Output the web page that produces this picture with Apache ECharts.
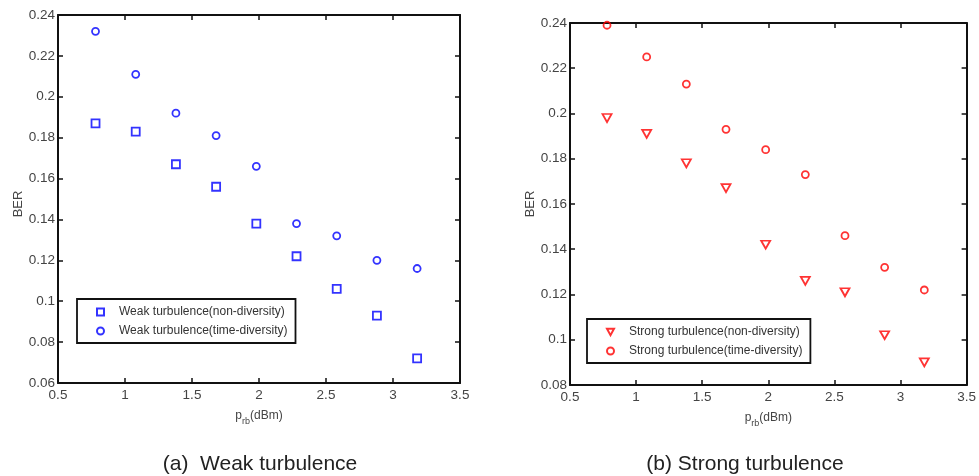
<!DOCTYPE html>
<html>
<head>
<meta charset="utf-8">
<script src="https://cdn.jsdelivr.net/npm/echarts@6/dist/echarts.min.js"></script>
<style>
  html, body { margin: 0; padding: 0; background: #fff; }
  #chart { width: 979px; height: 476px; }
</style>
</head>
<body>
<div id="chart"></div>
<script>
// Received optical power p_rb (dBm)
const powerDbm = [0.78, 1.08, 1.38, 1.68, 1.98, 2.28, 2.58, 2.88, 3.18];

// Bit error rate, weak turbulence
const weakNonDiversity  = [0.187, 0.183, 0.167, 0.156, 0.138, 0.122, 0.106, 0.093, 0.072];
const weakTimeDiversity = [0.232, 0.211, 0.192, 0.181, 0.166, 0.138, 0.132, 0.120, 0.116];

// Bit error rate, strong turbulence
const strongNonDiversity  = [0.198, 0.191, 0.178, 0.167, 0.142, 0.126, 0.121, 0.102, 0.090];
const strongTimeDiversity = [0.239, 0.225, 0.213, 0.193, 0.184, 0.173, 0.146, 0.132, 0.122];

const seriesNames = {
  weakNon: 'Weak turbulence(non-diversity)',
  weakTime: 'Weak turbulence(time-diversity)',
  strongNon: 'Strong turbulence(non-diversity)',
  strongTime: 'Strong turbulence(time-diversity)'
};
const captions = ['(a)  Weak turbulence', '(b) Strong turbulence'];

const FONT = 'Liberation Sans, Arial, sans-serif';
const TRIANGLE_DOWN = 'path://M0,0L10,0L5,9Z';
const pairs = ys => powerDbm.map((x, i) => [x, ys[i]]);

const lineStyle = { color: '#111', width: 2 };
const tickStyle = { show: true, inside: true, length: 5, lineStyle: { color: '#111', width: 1.5 } };

function xAxes(gridIndex) {
  const base = {
    gridIndex, type: 'value', min: 0.5, max: 3.5, interval: 0.5,
    axisLine: { show: true, onZero: false, lineStyle },
    axisTick: tickStyle, splitLine: { show: false }
  };
  return [
    Object.assign({}, base, {
      position: 'bottom',
      axisLabel: { color: '#444', fontFamily: FONT, fontSize: 13.5, margin: 5 },
      name: '{p|p}{s|rb}{p|(dBm)}',
      nameLocation: 'middle', nameGap: 24,
      nameTextStyle: {
        fontFamily: FONT, color: '#444',
        rich: {
          p: { fontFamily: FONT, fontSize: 12, color: '#444', verticalAlign: 'top', lineHeight: 14 },
          s: { fontFamily: FONT, fontSize: 9, color: '#444', padding: [10, 0, 0, 0], lineHeight: 12 }
        }
      }
    }),
    Object.assign({}, base, { position: 'top', axisLabel: { show: false } })
  ];
}

function yAxes(gridIndex, min, max, nameGap, namePad) {
  const base = {
    gridIndex, type: 'value', min, max, interval: 0.02,
    axisLine: { show: true, onZero: false, lineStyle },
    axisTick: tickStyle, splitLine: { show: false }
  };
  return [
    Object.assign({}, base, {
      position: 'left',
      axisLabel: { color: '#444', fontFamily: FONT, fontSize: 13.5, margin: 3 },
      name: 'BER', nameLocation: 'middle', nameGap, nameRotate: 90,
      nameTextStyle: { fontFamily: FONT, fontSize: 13, color: '#444', padding: namePad }
    }),
    Object.assign({}, base, { position: 'right', axisLabel: { show: false } })
  ];
}

function hollow(color) {
  return { color: 'rgba(255,255,255,0)', borderColor: color, borderWidth: 1.8 };
}

function legendBox(left, top, names) {
  return {
    data: names, left, top, orient: 'vertical',
    borderColor: '#111', borderWidth: 1.8, borderRadius: 0,
    padding: [7, 8, 6, 19], itemGap: 7, itemWidth: 7, itemHeight: 7,
    textStyle: { fontFamily: FONT, fontSize: 12, color: '#333', padding: [0, 0, 0, 10] }
  };
}

const captionStyle = { fontFamily: FONT, fontSize: 21, fontWeight: 'normal', color: '#222' };

const option = {
  backgroundColor: '#fff',
  animation: false,
  title: [
    { text: captions[0], left: 255, top: 449, textAlign: 'center', textStyle: captionStyle },
    { text: captions[1], left: 740, top: 449, textAlign: 'center', textStyle: captionStyle }
  ],
  grid: [
    { left: 58, top: 15, width: 402, height: 368 },
    { left: 570, top: 23, width: 399, height: 362 }
  ],
  xAxis: [...xAxes(0), ...xAxes(1)],
  yAxis: [...yAxes(0, 0.06, 0.24, 33, [0, 10, 0, 0]), ...yAxes(1, 0.08, 0.24, 32, 0)],
  legend: [
    legendBox(77, 299, [seriesNames.weakNon, seriesNames.weakTime]),
    legendBox(587, 319, [seriesNames.strongNon, seriesNames.strongTime])
  ],
  series: [
    { name: seriesNames.weakNon, type: 'scatter', xAxisIndex: 0, yAxisIndex: 0,
      symbol: 'rect', symbolSize: 8, itemStyle: hollow('#0000ff'), data: pairs(weakNonDiversity) },
    { name: seriesNames.weakTime, type: 'scatter', xAxisIndex: 0, yAxisIndex: 0,
      symbol: 'circle', symbolSize: 7, itemStyle: hollow('#0000ff'), data: pairs(weakTimeDiversity) },
    { name: seriesNames.strongNon, type: 'scatter', xAxisIndex: 2, yAxisIndex: 2,
      symbol: TRIANGLE_DOWN, symbolSize: [9, 8], itemStyle: hollow('#ff0000'), data: pairs(strongNonDiversity) },
    { name: seriesNames.strongTime, type: 'scatter', xAxisIndex: 2, yAxisIndex: 2,
      symbol: 'circle', symbolSize: 7, itemStyle: hollow('#ff0000'), data: pairs(strongTimeDiversity) }
  ]
};

const chart = echarts.init(document.getElementById('chart'), null, { renderer: 'canvas' });
chart.setOption(option);
</script>
</body>
</html>
